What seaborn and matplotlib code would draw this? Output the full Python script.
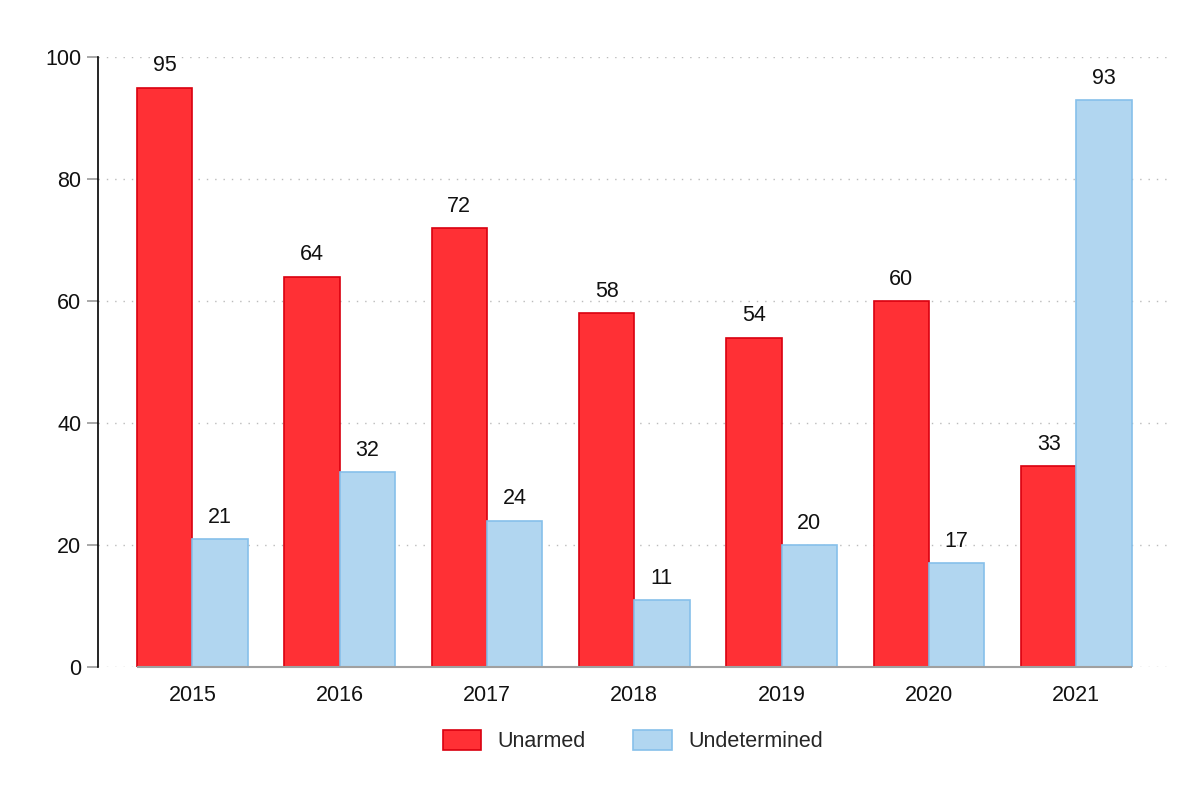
import matplotlib
matplotlib.use("Agg")
import matplotlib.pyplot as plt
import seaborn as sns
import pandas as pd

years = ["2015", "2016", "2017", "2018", "2019", "2020", "2021"]
unarmed = [95, 64, 72, 58, 54, 60, 33]
undetermined = [21, 32, 24, 11, 20, 17, 93]
series_names = ["Unarmed", "Undetermined"]
y_ticks = [0, 20, 40, 60, 80, 100]

df = pd.DataFrame({
    "year": years * 2,
    "value": unarmed + undetermined,
    "series": [series_names[0]] * len(years) + [series_names[1]] * len(years),
})

sns.set_theme(style="white")
plt.rcParams["font.family"] = ["Liberation Sans", "DejaVu Sans"]

face = {"Unarmed": "#ff3035", "Undetermined": "#b1d6f0"}
edge = {"Unarmed": "#d9000f", "Undetermined": "#86c0ea"}

fig = plt.figure(figsize=(12, 8), dpi=100)
ax = fig.add_axes([0.0817, 0.16625, 0.8913, 0.7625])

sns.barplot(data=df, x="year", y="value", hue="series", order=years,
            hue_order=series_names, palette=face, width=0.75,
            saturation=1, ax=ax, legend=True)

for cont, name in zip(ax.containers, series_names):
    for p in cont:
        p.set_edgecolor(edge[name])
        p.set_linewidth(1.2)
    ax.bar_label(cont, labels=[f"{int(v)}" for v in cont.datavalues],
                 padding=8, fontsize=15.5, color="#111111")

ax.set_ylim(0, 100)
ax.set_xlim(-0.64, 6.62)
ax.set_yticks(y_ticks)
ax.set_yticklabels([str(t) for t in y_ticks], fontsize=15.5, color="#111111")
ax.set_xlabel("")
ax.set_ylabel("")
ax.tick_params(axis="x", length=0, labelsize=15.5, colors="#111111", pad=13)
ax.tick_params(axis="y", length=8, width=1.2, color="#999999", pad=4, left=True)

ax.yaxis.grid(True, linestyle=(0, (1, 5)), color="#bbbbbb", linewidth=1)
ax.set_axisbelow(True)

for s in ["top", "right", "bottom"]:
    ax.spines[s].set_visible(False)
ax.spines["left"].set_color("#000000")
ax.spines["left"].set_linewidth(1.2)

# baseline spanning the bars
patches = [p for c in ax.containers for p in c]
xmin = min(p.get_x() for p in patches)
xmax = max(p.get_x() + p.get_width() for p in patches)
ax.hlines(0, xmin, xmax, color="#a0a0a0", linewidth=1.5, zorder=3, clip_on=False)

leg = ax.legend(loc="upper center", bbox_to_anchor=(0.5, -0.072), ncol=2,
                frameon=False, fontsize=15.5, handlelength=1.8, handleheight=1.0,
                columnspacing=2.2, handletextpad=0.75)
for h, name in zip(leg.legend_handles, series_names):
    h.set_edgecolor(edge[name])
    h.set_linewidth(1.2)

fig.savefig("out.png", dpi=100, facecolor="white")
